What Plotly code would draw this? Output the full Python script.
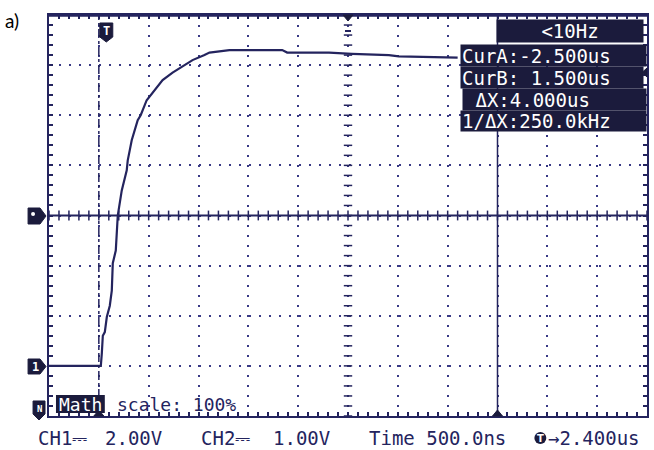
import numpy as np
import plotly.graph_objects as go

# ---------------- data ----------------
time_us = [-3.00, -2.48, -2.47, -2.46, -2.44, -2.42, -2.39, -2.37, -2.36, -2.33,
           -2.31, -2.29, -2.27, -2.22, -2.21, -2.19, -2.17, -2.11, -2.08, -2.02,
           -1.94, -1.86, -1.76, -1.64, -1.56, -1.44, -1.39, -1.19, -0.66, -0.61,
           -0.19, 0.04, 0.41, 0.51, 0.94, 1.06, 1.10]
ch1_v = [0.0, 0.0, 0.5, 1.2, 1.35, 1.95, 2.4, 3.0, 4.1, 4.6,
         6.0, 6.6, 7.0, 7.8, 8.2, 8.6, 9.0, 9.8, 10.0, 10.6,
         11.0, 11.4, 11.7, 12.0, 12.2, 12.4, 12.5, 12.6, 12.6, 12.5,
         12.5, 12.45, 12.4, 12.35, 12.3, 12.3, 12.3]
cursor_a_us = -2.5
cursor_b_us = 1.5
x_range = [-3.0, 3.0]     # 500 ns/div, 12 divisions
y_range = [-2.0, 14.0]    # 2 V/div, 8 divisions
center_v = 6.0
readouts = ["<10Hz", "CurA:-2.500us", "CurB: 1.500us", "\u00a0ΔX:4.000us", "1/ΔX:250.0kHz"]
status_texts = ["CH1⎓", "2.00V", "CH2⎓", "1.00V", "Time 500.0ns", "→2.400us"]

# ---------------- style ----------------
NAVY = "#24245e"
GRID = "#3a3a86"
BOX = "#1b1b3c"
MONO = "DejaVu Sans Mono"
L, T, W, H = 49, 15, 600, 401


def px(x):
    return (x - L) / W


def py(y):
    return (T + H - y) / H


def path(points):
    s = "M " + " L ".join(f"{px(a):.5f},{py(b):.5f}" for a, b in points) + " Z"
    return s


fig = go.Figure()

# trace
fig.add_trace(go.Scatter(x=time_us, y=ch1_v, mode="lines",
                         line=dict(color=NAVY, width=2.2), hoverinfo="skip",
                         showlegend=False))

# center axis ticks
fig.add_trace(go.Scatter(x=np.arange(-3.0, 3.001, 0.1), y=[center_v] * 61, mode="markers",
                         marker=dict(symbol="line-ns", size=7,
                                     line=dict(color=NAVY, width=1.5)),
                         hoverinfo="skip", showlegend=False))
fig.add_trace(go.Scatter(x=[0] * 41, y=np.arange(-2.0, 14.001, 0.4), mode="markers",
                         marker=dict(symbol="line-ew", size=6,
                                     line=dict(color=NAVY, width=1.5)),
                         hoverinfo="skip", showlegend=False))

shapes = []
# center horizontal solid line
shapes.append(dict(type="line", xref="x", yref="y", x0=x_range[0], x1=x_range[1],
                   y0=center_v, y1=center_v, line=dict(color=NAVY, width=2)))
# cursors
shapes.append(dict(type="line", xref="x", yref="paper", x0=cursor_a_us, x1=cursor_a_us,
                   y0=0, y1=1, line=dict(color=NAVY, width=1.5, dash="dashdot")))
shapes.append(dict(type="line", xref="x", yref="paper", x0=cursor_b_us, x1=cursor_b_us,
                   y0=0, y1=1, line=dict(color=NAVY, width=1.5)))
# thick top border
shapes.append(dict(type="line", xref="paper", yref="paper", x0=0, x1=1, y0=1, y1=1,
                   line=dict(color=NAVY, width=3.5)))

# markers
marker_paths = [
    [(28, 359), (40, 359), (46, 366.5), (40, 374), (28, 374)],        # ch1 ground
    [(28, 208), (40, 208), (46, 216), (40, 224), (28, 224)],          # center
    [(33, 401), (45, 401), (45, 414), (39, 420), (33, 414)],          # math
    [(100, 23), (113, 23), (113, 37), (106.5, 42), (100, 37)],        # T
    [(344, 15), (354, 15), (349, 21)],                                # top center
    [(94, 416), (104, 416), (99, 410)],                               # cursor A
    [(494, 416), (504, 416), (499, 410)],                             # cursor B
    [(649, 68), (649, 77), (644, 72.5)],                              # right
]
for pts in marker_paths:
    shapes.append(dict(type="path", xref="paper", yref="paper", path=path(pts),
                       fillcolor=BOX, line=dict(color=BOX, width=1)))
# white dot in center marker
shapes.append(dict(type="circle", xref="paper", yref="paper",
                   x0=px(31), x1=px(35), y0=py(216), y1=py(212),
                   fillcolor="white", line=dict(width=0)))
# dash below top marker
shapes.append(dict(type="line", xref="paper", yref="paper", x0=px(346), x1=px(352),
                   y0=py(31), y1=py(31), line=dict(color=NAVY, width=2)))
# trigger circle in status line
shapes.append(dict(type="circle", xref="paper", yref="paper",
                   x0=px(536), x1=px(548), y0=py(444), y1=py(432),
                   fillcolor=BOX, line=dict(width=0)))
# Math box
shapes.append(dict(type="rect", xref="paper", yref="paper",
                   x0=px(56), x1=px(105), y0=py(413), y1=py(395),
                   fillcolor=BOX, line=dict(width=0)))

ann = []
# readout boxes
boxes = [(497, 19, 148, 22, "center"), (461, 44, 187, 21, "left"),
         (461, 66, 184, 21, "left"), (463, 88, 185, 21, "left"),
         (461, 110, 187, 20, "left")]
for (bx, by, bw, bh, al), txt in zip(boxes, readouts):
    ann.append(dict(xref="paper", yref="paper", x=px(bx), y=py(by),
                    xanchor="left", yanchor="top", width=bw - 4, height=bh - 2,
                    borderpad=1, bgcolor=BOX, align=al, valign="middle",
                    text=txt, showarrow=False,
                    font=dict(family=MONO, size=19, color="white")))

# status line
status_x = [36, 103, 200, 272, 368, 548]
for sx, txt in zip(status_x, status_texts):
    ann.append(dict(xref="paper", yref="paper", x=px(sx), y=py(438),
                    xanchor="left", yanchor="middle", text=txt, showarrow=False,
                    font=dict(family=MONO, size=19, color=NAVY)))
ann.append(dict(xref="paper", yref="paper", x=px(542), y=py(438.5), xanchor="center",
                yanchor="middle", text="<b>T</b>", showarrow=False,
                font=dict(family="DejaVu Sans", size=10, color="white")))

# marker labels
ann.append(dict(xref="paper", yref="paper", x=px(35), y=py(366.5), xanchor="center",
                yanchor="middle", text="<b>1</b>", showarrow=False,
                font=dict(family=MONO, size=12, color="white")))
ann.append(dict(xref="paper", yref="paper", x=px(39), y=py(409), xanchor="center",
                yanchor="middle", text="<b>N</b>", showarrow=False,
                font=dict(family=MONO, size=9, color="white")))
ann.append(dict(xref="paper", yref="paper", x=px(106.5), y=py(31), xanchor="center",
                yanchor="middle", text="<b>T</b>", showarrow=False,
                font=dict(family=MONO, size=12, color="white")))

# Math + scale
ann.append(dict(xref="paper", yref="paper", x=px(80.5), y=py(404), xanchor="center",
                yanchor="middle", text="Math", showarrow=False,
                font=dict(family=MONO, size=18, color="white")))
ann.append(dict(xref="paper", yref="paper", x=px(115), y=py(404), xanchor="left",
                yanchor="middle", text="scale: 100%", showarrow=False,
                font=dict(family=MONO, size=18, color=NAVY)))

# panel label
ann.append(dict(xref="paper", yref="paper", x=px(3), y=py(20), xanchor="left",
                yanchor="middle", text="a)", showarrow=False,
                font=dict(family="Lato", size=19, color="black")))

axis_common = dict(showgrid=True, gridcolor=GRID, gridwidth=2, griddash="2px,8px",
                   showline=True, linecolor=NAVY, linewidth=2, mirror="allticks",
                   ticks="inside", ticklen=4, tickwidth=1.5, tickcolor=NAVY,
                   showticklabels=False, zeroline=False, fixedrange=True)

fig.update_layout(
    width=654, height=450,
    margin=dict(l=L, r=654 - L - W, t=T, b=450 - T - H),
    paper_bgcolor="white", plot_bgcolor="white",
    xaxis=dict(range=x_range, dtick=0.5, tick0=-3,
               minor=dict(dtick=0.1, tick0=-3, ticks="inside", ticklen=4,
                          tickcolor=NAVY, tickwidth=1.5, showgrid=False),
               **axis_common),
    yaxis=dict(range=y_range, dtick=2, tick0=-2,
               minor=dict(dtick=0.4, tick0=-2, ticks="inside", ticklen=4,
                          tickcolor=NAVY, tickwidth=1.5, showgrid=False),
               **axis_common),
    shapes=shapes, annotations=ann, showlegend=False,
)

fig.write_html("out.html", config={"displayModeBar": False},
               post_script="document.body.style.margin='0';"
                           "document.body.style.overflow='hidden';")
